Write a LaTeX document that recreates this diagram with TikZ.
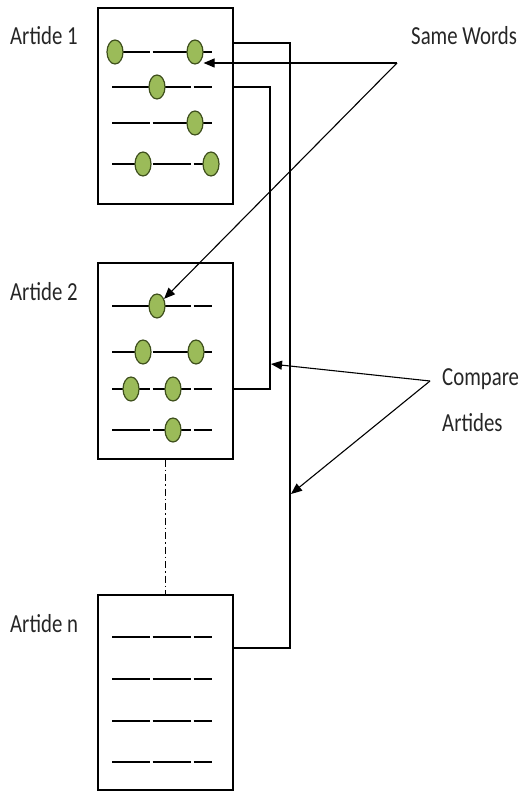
\documentclass[tikz,border=0pt]{standalone}
\usepackage{fontspec}
\setmainfont{Carlito}
\usetikzlibrary{arrows.meta,shapes.geometric}
\definecolor{dotgreen}{HTML}{9BBB59}
\definecolor{dotedge}{HTML}{3E4F1C}
\definecolor{txt}{HTML}{262626}
\newcommand\lab[1]{\scalebox{0.8}[1]{#1}}
\newcommand\wordrow[1]{\draw[wl] (112,#1) -- (150,#1) (152.5,#1) -- (191,#1) (193.5,#1) -- (212,#1);}
\begin{document}
\begin{tikzpicture}[x=1pt,y=-1pt,
  doc/.style={draw, line width=1.3pt, minimum width=135pt, minimum height=196pt, inner sep=0pt},
  word/.style={ellipse, draw=dotedge, fill=dotgreen, line width=1.2pt, minimum width=16pt, minimum height=24pt, inner sep=0pt},
  wl/.style={line width=1.4pt},
  conn/.style={line width=1.1pt},
  arr/.style={conn, -{Triangle[length=11pt,width=9pt]}},
  dashdot/.style={line width=0.9pt, dash pattern=on 7pt off 3pt on 1.5pt off 3pt},
  lbl/.style={anchor=base west, inner sep=0pt, text=txt, font=\fontsize{26pt}{28pt}\selectfont}
]
\useasboundingbox (0,0) rectangle (521,791);

% documents
\node[doc] (b1) at (165.5,106) {};
\node[doc] (b2) at (165.5,361) {};
\node[doc, minimum height=195pt] (b3) at (165.5,692.5) {};

% labels
\node[lbl] (l1) at (10,45) {\lab{Artide 1}};
\node[lbl] (l2) at (10,300) {\lab{Artide 2}};
\node[lbl] (l3) at (10,632) {\lab{Artide n}};
\node[lbl] (sw-text) at (411,45) {\lab{Same Words}};
\node[lbl] (ca1) at (442,385) {\lab{Compare}};
\node[lbl] (ca2) at (442,431) {\lab{Artides}};

% word rows
\wordrow{52}\wordrow{87}\wordrow{123}\wordrow{164}
\wordrow{306}\wordrow{352}\wordrow{389}\wordrow{430}
\wordrow{637}\wordrow{679}\wordrow{721}\wordrow{762}

% same words (circles)
\node[word] (w11) at (115,52) {};
\node[word] (w12) at (195,52) {};
\node[word] (w13) at (157,87) {};
\node[word] (w14) at (195,123) {};
\node[word] (w15) at (143,164) {};
\node[word] (w16) at (211,164) {};
\node[word] (w21) at (157,306) {};
\node[word] (w22) at (143,352) {};
\node[word] (w23) at (196,352) {};
\node[word] (w24) at (131,389) {};
\node[word] (w25) at (173,389) {};
\node[word] (w26) at (173,430) {};

% comparison connectors
\coordinate (r1) at (290,43);
\coordinate (r2) at (290,648);
\draw[conn] (b1.east |- r1) -- (r1) -- (r2) -- (b3.east |- r2);
\coordinate (q1) at (270,87);
\coordinate (q2) at (270,389);
\draw[conn] (b1.east |- q1) -- (q1) -- (q2) -- (b2.east |- q2);

% continuation
\draw[dashdot] (b2.south) -- (b3.north);

% same words arrows
\coordinate (sw) at (397,63);
\draw[arr] (sw) -- (w12.east |- sw);
\draw[arr] (sw) -- (w21);

% compare arrows
\coordinate (ca) at (430,381);
\coordinate (t1) at (271,364);
\coordinate (t2) at (291,494);
\draw[arr] (ca) -- (t1);
\draw[arr] (ca) -- (t2);
\end{tikzpicture}
\end{document}
